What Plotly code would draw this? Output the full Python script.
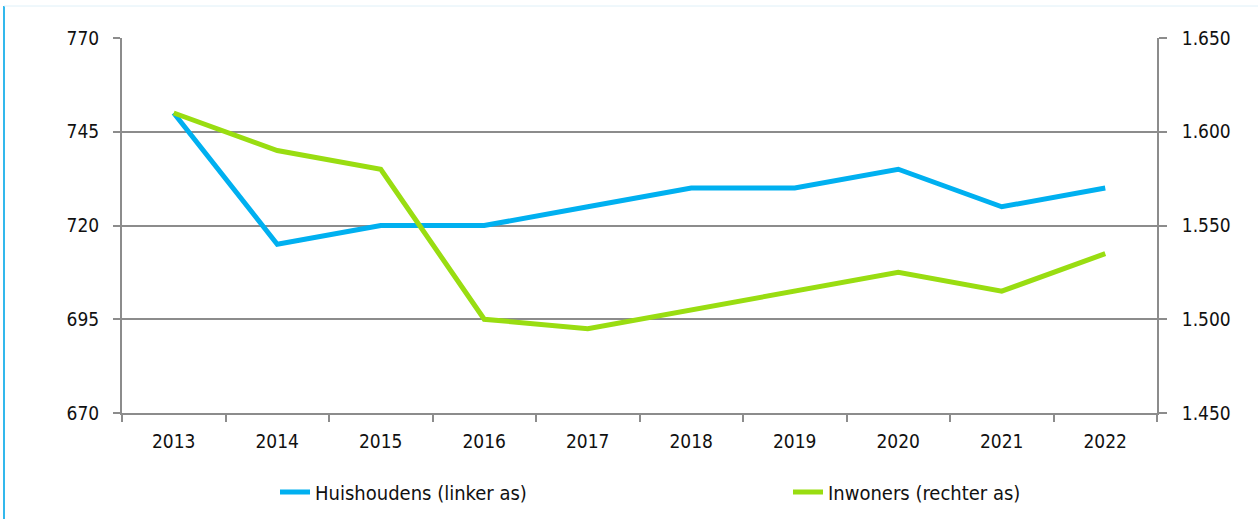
import plotly.graph_objects as go

years = ["2013", "2014", "2015", "2016", "2017", "2018", "2019", "2020", "2021", "2022"]
huishoudens = [750, 715, 720, 720, 725, 730, 730, 735, 725, 730]
inwoners = [1610, 1590, 1580, 1500, 1495, 1505, 1515, 1525, 1515, 1535]

left_ticks = [670, 695, 720, 745, 770]
right_ticks = [1450, 1500, 1550, 1600, 1650]

BLUE = "#00b0f0"
GREEN = "#99dd11"
GRID = "#8c8c8c"
FONT = "DejaVu Sans Condensed, Roboto, sans-serif"

W, H = 1258, 519
L, R, T, B = 122, 101, 38, 106
PW, PH = W - L - R, H - T - B


def px_to_paper_x(px):
    return (px - L) / PW


def px_to_paper_y(py):
    return (H - B - py) / PH


fig = go.Figure()
fig.add_trace(go.Scatter(x=years, y=huishoudens, mode="lines", name="Huishoudens (linker as)",
                         line=dict(color=BLUE, width=5), yaxis="y", legend="legend", showlegend=True))
fig.add_trace(go.Scatter(x=years, y=inwoners, mode="lines", name="Inwoners (rechter as)",
                         line=dict(color=GREEN, width=5), yaxis="y2", legend="legend2", showlegend=True))

fig.update_layout(
    width=W, height=H,
    showlegend=True,
    margin=dict(l=L, r=R, t=T, b=B, autoexpand=False),
    paper_bgcolor="white", plot_bgcolor="white",
    separators=",.",
    font=dict(family=FONT, size=19, color="#111111"),
    xaxis=dict(type="category", range=[-0.5, 9.5], showgrid=False,
               showline=True, linecolor=GRID, linewidth=2,
               ticks="outside", tickson="boundaries", ticklen=7, tickcolor=GRID, tickwidth=2,
               ticklabelstandoff=10, automargin=False),
    yaxis=dict(range=[670, 770], tickvals=left_ticks, showgrid=True, gridcolor=GRID, gridwidth=2,
               showline=True, linecolor=GRID, linewidth=2, zeroline=False,
               ticks="outside", ticklen=7, tickcolor=GRID, tickwidth=2, ticklabelstandoff=10,
               automargin=False),
    yaxis2=dict(range=[1450, 1650], tickvals=right_ticks, tickformat=",", overlaying="y", side="right",
                showgrid=False, showline=True, linecolor=GRID, linewidth=2, zeroline=False,
                ticks="outside", ticklen=8, tickcolor=GRID, tickwidth=2, ticklabelstandoff=11,
                automargin=False),
    legend=dict(xref="container", yref="container", x=275 / W, y=(H - 492) / H,
                xanchor="left", yanchor="middle",
                font=dict(size=20), bgcolor="rgba(0,0,0,0)"),
    legend2=dict(xref="container", yref="container", x=788 / W, y=(H - 492) / H,
                 xanchor="left", yanchor="middle",
                 font=dict(size=20), bgcolor="rgba(0,0,0,0)"),
)

fig.add_shape(type="line", xref="paper", yref="paper",
              x0=px_to_paper_x(4), x1=px_to_paper_x(4), y0=px_to_paper_y(6), y1=px_to_paper_y(H),
              line=dict(color="#33b8ec", width=2))
fig.add_shape(type="line", xref="paper", yref="paper",
              x0=px_to_paper_x(4), x1=px_to_paper_x(W), y0=px_to_paper_y(6), y1=px_to_paper_y(6),
              line=dict(color="#dff0f8", width=1))

fig.write_html("out.html", config={"displayModeBar": False},
               post_script="document.body.style.margin='0px';document.body.style.padding='0px';")
